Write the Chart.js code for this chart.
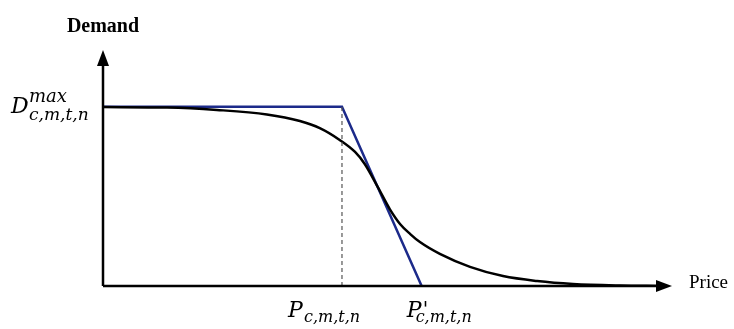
<!DOCTYPE html>
<html>
<head>
<meta charset="utf-8">
<script src="https://cdn.jsdelivr.net/npm/chart.js@4/dist/chart.umd.min.js"></script>
<style>
  body { margin: 0; background: #fff; }
  #wrap { width: 734px; height: 329px; }
</style>
</head>
<body>
<div id="wrap"><canvas id="chart1"></canvas></div>
<script>
// key values (price in %, demand in %)
var demandMax = 76;
var priceKnee = 42;
var pricePrime = 56;

// smooth demand curve
var curveX = [0, 11.25, 20, 28.8, 34.6, 38.1, 41.6, 44.3, 46, 48.3, 50.4, 52.2, 54, 55.7, 59.2, 64.5, 70.3, 76.3, 82.6, 90.9, 97.9];
var curveY = [75.8, 75.6, 74.6, 72.7, 69.9, 66.9, 61.9, 56.8, 51.7, 41.9, 32.6, 26.3, 22, 18.6, 13.6, 8.1, 4.2, 2.1, 0.85, 0.2, 0];

function pts(xs, ys) {
    return xs.map(function(x, i) { return {x: x, y: ys[i]}; });
}

// axes with arrows + labels
var axesPlugin = {
    id: 'axes',
    afterDraw: function(chart) {
        var c = chart.ctx, a = chart.chartArea;
        var xs = chart.scales.x, ys = chart.scales.y;
        var x0 = a.left, y0 = a.bottom;
        c.save();
        c.strokeStyle = '#000';
        c.fillStyle = '#000';
        c.lineWidth = 2.5;
        c.beginPath();
        c.moveTo(x0, y0); c.lineTo(a.right - 10, y0);
        c.moveTo(x0, y0); c.lineTo(x0, a.top + 10);
        c.stroke();
        // arrow heads
        c.beginPath();
        c.moveTo(a.right, y0); c.lineTo(a.right - 16, y0 - 6); c.lineTo(a.right - 16, y0 + 6);
        c.closePath(); c.fill();
        c.beginPath();
        c.moveTo(x0, a.top); c.lineTo(x0 - 6, a.top + 16); c.lineTo(x0 + 6, a.top + 16);
        c.closePath(); c.fill();

        c.textBaseline = 'alphabetic';
        c.font = 'bold 20px "Liberation Serif"';
        c.textAlign = 'center';
        c.fillText('Demand', x0, 32);
        c.font = '19px "Liberation Serif"';
        c.textAlign = 'left';
        c.fillText('Price', a.right + 17, y0 + 2);

        // D max label
        var yd = ys.getPixelForValue(demandMax);
        c.font = 'italic 22px "DejaVu Serif"';
        c.textAlign = 'left';
        c.fillText('D', 11, yd + 6);
        c.font = 'italic 18px "DejaVu Serif"';
        c.fillText('max', 29, yd - 5);
        c.font = 'italic 17px "DejaVu Serif"';
        c.fillText('c,m,t,n', 29, yd + 13);

        // P labels
        var by = y0 + 31;
        var px = xs.getPixelForValue(priceKnee);
        c.font = 'italic 22px "DejaVu Serif"';
        c.fillText('P', px - 54, by);
        c.font = 'italic 16px "DejaVu Serif"';
        c.fillText('c,m,t,n', px - 38, by + 5);
        var pp = xs.getPixelForValue(pricePrime);
        c.font = 'italic 22px "DejaVu Serif"';
        c.fillText('P', pp - 15, by);
        c.font = 'italic 20px "DejaVu Serif"';
        c.fillText("'", pp + 1, by - 1);
        c.font = 'italic 16px "DejaVu Serif"';
        c.fillText('c,m,t,n', pp - 6, by + 5);
        c.restore();
    }
};

var ctx = document.getElementById('chart1').getContext('2d');
var myChart = new Chart(ctx, {
    type: 'line',
    data: {
        datasets: [{
            label: 'Knee',
            data: pts([priceKnee, priceKnee], [0, demandMax]),
            borderColor: '#555',
            borderWidth: 1.2,
            borderDash: [4, 3],
            pointRadius: 0
        },
        {
            label: 'Demand curve',
            data: pts(curveX, curveY),
            borderColor: '#000',
            borderWidth: 2.5,
            cubicInterpolationMode: 'monotone',
            pointRadius: 0
        },
        {
            label: 'Linear approx',
            data: pts([0, priceKnee, pricePrime], [demandMax, demandMax, 0]),
            borderColor: '#1c2a8a',
            borderWidth: 2.5,
            tension: 0,
            pointRadius: 0
        }]
    },
    options: {
        responsive: true,
        maintainAspectRatio: false,
        animation: false,
        layout: { padding: { left: 103, right: 62, top: 50, bottom: 43 } },
        plugins: {
            legend: { display: false },
            tooltip: { enabled: false }
        },
        scales: {
            x: { type: 'linear', min: 0, max: 100, display: false },
            y: { min: 0, max: 100, display: false }
        }
    },
    plugins: [axesPlugin]
});
</script>
</body>
</html>
